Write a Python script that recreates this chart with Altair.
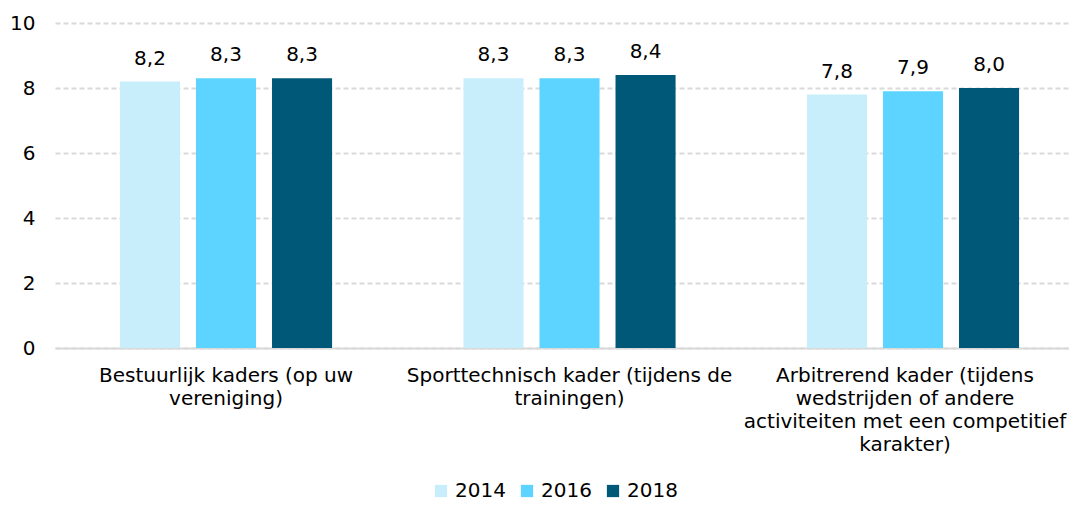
import altair as alt
import pandas as pd

categories = [
    "Bestuurlijk kaders (op uw|vereniging)",
    "Sporttechnisch kader (tijdens de|trainingen)",
    "Arbitrerend kader (tijdens|wedstrijden of andere|activiteiten met een competitief|karakter)",
]
years = ["2014", "2016", "2018"]
values_2014 = [8.2, 8.3, 7.8]
values_2016 = [8.3, 8.3, 7.9]
values_2018 = [8.3, 8.4, 8.0]
colors = ["#C8EEFC", "#5CD4FF", "#005878"]

rows = []
for i, c in enumerate(categories):
    for y, vals in zip(years, [values_2014, values_2016, values_2018]):
        rows.append({"category": c, "year": y, "value": vals[i]})
df = pd.DataFrame(rows)

FONT = "DejaVu Sans"
FS = 20

base = alt.Chart(df).encode(
    x=alt.X(
        "category:N",
        sort=categories,
        title=None,
        scale=alt.Scale(paddingInner=0.336, paddingOuter=0.144, align=0.576, round=False),
        axis=alt.Axis(
            labelAngle=0,
            labelExpr="split(datum.label, '|')",
            labelFont=FONT,
            labelFontSize=FS,
            labelColor="#000000",
            labelLineHeight=23,
            labelPadding=17,
            labelLimit=0,
            labelOffset={
                "condition": {
                    "test": "indexof(datum.value, 'Arbitrerend') >= 0",
                    "value": -8,
                },
                "value": 0,
            },
            ticks=False,
            domainColor="#d9d9d9",
            domainWidth=2,
            grid=False,
        ),
    ),
    xOffset=alt.XOffset(
        "year:N",
        sort=years,
        scale=alt.Scale(paddingInner=0.21, paddingOuter=0.105, round=False),
    ),
)

bars = base.mark_bar().encode(
    y=alt.Y(
        "value:Q",
        title=None,
        scale=alt.Scale(domain=[0, 10], nice=False),
        axis=alt.Axis(
            values=[0, 2, 4, 6, 8, 10],
            labelFont=FONT,
            labelFontSize=FS,
            labelColor="#000000",
            labelPadding=20,
            ticks=False,
            domain=False,
            gridColor="#d9d9d9",
            gridDash=[5, 3],
            gridWidth=2,
        ),
    ),
    color=alt.Color(
        "year:N",
        sort=years,
        scale=alt.Scale(domain=years, range=colors),
        legend=alt.Legend(
            title=None,
            orient="none",
            direction="horizontal",
            legendX=376,
            legendY=458,
            symbolType="square",
            symbolSize=150,
            symbolStrokeWidth=0,
            labelFont=FONT,
            labelFontSize=FS,
            labelColor="#000000",
            labelOffset=4,
            columnPadding=11,
        ),
    ),
)

labels = base.transform_calculate(
    label="replace(format(datum.value, '.1f'), '.', ',')"
).mark_text(
    font=FONT, fontSize=FS, color="#000000", baseline="alphabetic", dy=-17
).encode(
    y="value:Q",
    text="label:N",
)

chart = (
    alt.layer(bars, labels)
    .properties(
        width=1014,
        height=325,
        autosize=alt.AutoSizeParams(type="none"),
        padding={"left": 47, "top": 15, "right": 0, "bottom": 153},
        background="#ffffff",
    )
    .configure_view(stroke=None)
)

chart.save("out.html", embed_options={"renderer": "svg", "actions": False})
